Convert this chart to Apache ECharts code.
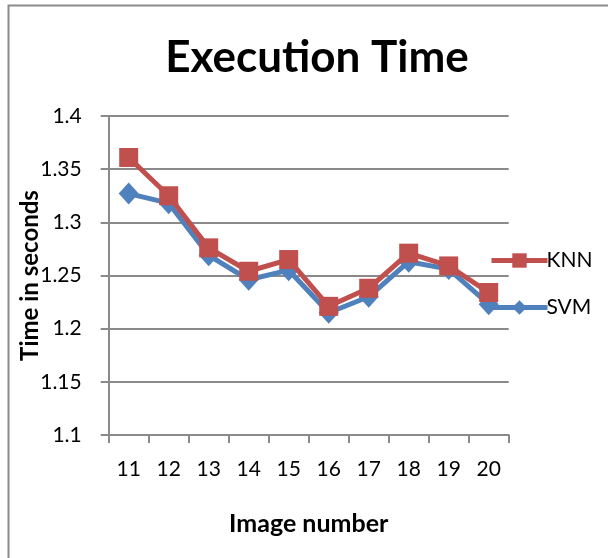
<!DOCTYPE html>
<html>
<head>
<meta charset="utf-8">
<script src="https://cdn.jsdelivr.net/npm/echarts@6/dist/echarts.min.js"></script>
<style>
  html, body { margin: 0; padding: 0; background: #fff; }
  #chart { width: 608px; height: 558px; }
</style>
</head>
<body>
<div id="chart"></div>
<script>
// Image numbers on the horizontal axis
const imageNumbers = ['11', '12', '13', '14', '15', '16', '17', '18', '19', '20'];
// Execution time in seconds for each classifier
const knnTimes = [1.361, 1.325, 1.276, 1.254, 1.265, 1.221, 1.238, 1.271, 1.259, 1.234];
const svmTimes = [1.327, 1.318, 1.269, 1.246, 1.255, 1.215, 1.230, 1.263, 1.256, 1.223];

const FONT = 'Lato, "Open Sans", sans-serif';
const chart = echarts.init(document.getElementById('chart'), null, { renderer: 'canvas' });

chart.setOption({
  animation: false,
  backgroundColor: '#ffffff',
  title: {
    text: 'Execution Time',
    left: 312,
    textAlign: 'center',
    top: 31,
    textStyle: { fontFamily: FONT, fontWeight: 'bold', fontSize: 44, color: '#000' }
  },
  graphic: [{
    type: 'rect',
    shape: { x: 8.5, y: 5.5, width: 700, height: 700 },
    style: { fill: 'none', stroke: '#8a8a8a', lineWidth: 2 },
    silent: true
  }],
  legend: {
    data: ['KNN', 'SVM'],
    orient: 'vertical',
    left: 484,
    top: 245,
    itemWidth: 56,
    itemHeight: 18,
    itemGap: 26,
    lineStyle: { width: 5 },
    textStyle: { fontFamily: FONT, fontSize: 21, color: '#000', padding: [0, 0, 0, -6] }
  },
  grid: { left: 108.7, right: 99.3, top: 116, bottom: 123, containLabel: false },
  xAxis: {
    type: 'category',
    data: imageNumbers,
    boundaryGap: true,
    name: 'Image number',
    nameLocation: 'middle',
    nameGap: 76,
    nameMoveOverlap: false,
    nameTextStyle: { fontFamily: FONT, fontWeight: 'bold', fontSize: 25, color: '#000' },
    axisLine: { lineStyle: { color: '#8a8a8a', width: 2 } },
    axisTick: { show: true, length: 8, lineStyle: { color: '#8a8a8a', width: 2 } },
    axisLabel: { fontFamily: FONT, fontSize: 21, color: '#000', margin: 24 }
  },
  yAxis: {
    type: 'value',
    min: 1.1,
    max: 1.4,
    interval: 0.05,
    name: 'Time in seconds',
    nameLocation: 'middle',
    nameGap: 66,
    nameMoveOverlap: false,
    nameRotate: 90,
    nameTextStyle: { fontFamily: FONT, fontWeight: 'bold', fontSize: 24, color: '#000' },
    axisLine: { show: true, lineStyle: { color: '#8a8a8a', width: 2 } },
    axisTick: { show: true, length: 8, lineStyle: { color: '#8a8a8a', width: 2 } },
    splitLine: { lineStyle: { color: '#8a8a8a', width: 2 } },
    axisLabel: {
      fontFamily: FONT, fontSize: 21, color: '#000', margin: 27,
      formatter: v => String(parseFloat(v.toFixed(2)))
    }
  },
  series: [
    {
      name: 'SVM',
      type: 'line',
      data: svmTimes,
      z: 2,
      symbol: 'diamond',
      symbolSize: [20, 22],
      lineStyle: { color: '#4f81bd', width: 5 },
      itemStyle: { color: '#4f81bd' }
    },
    {
      name: 'KNN',
      type: 'line',
      data: knnTimes,
      z: 3,
      symbol: 'rect',
      symbolSize: 19,
      lineStyle: { color: '#c0504d', width: 5 },
      itemStyle: { color: '#c0504d' }
    }
  ]
});
</script>
</body>
</html>
